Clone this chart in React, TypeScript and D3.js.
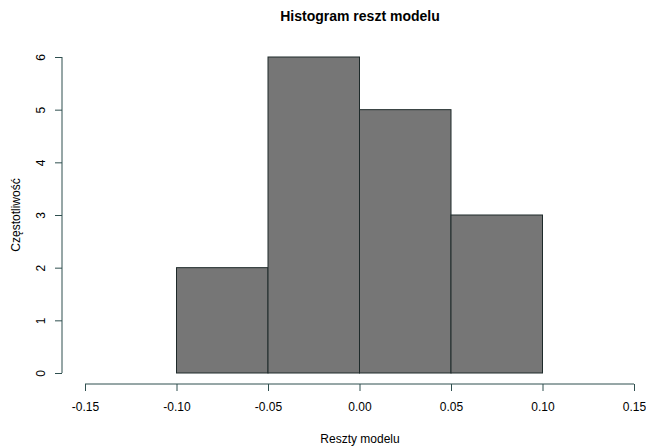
import { useEffect, useRef } from 'react'
import * as d3 from 'd3'

const binEdges = [-0.1, -0.05, 0, 0.05, 0.1]
const counts = [2, 6, 5, 3]
const xTicks = [-0.15, -0.1, -0.05, 0, 0.05, 0.1, 0.15]
const yTicks = [0, 1, 2, 3, 4, 5, 6]

const TITLE = 'Histogram reszt modelu'
const X_LABEL = 'Reszty modelu'
const Y_LABEL = 'Częstotliwość'

export default function App() {
  const svgRef = useRef<SVGSVGElement | null>(null)

  useEffect(() => {
    if (!svgRef.current) return
    const svg = d3.select(svgRef.current)
    svg.selectAll('*').remove()

    const W = 646, H = 446
    const font = '"Liberation Sans", Arial, sans-serif'
    const axisColor = '#2f4f4f'

    const x = d3.scaleLinear().domain([-0.15, 0.15]).range([85, 634])
    const y = d3.scaleLinear().domain([0, 6]).range([373, 57])

    // Bars
    counts.forEach((c, i) => {
      svg.append('rect')
        .attr('x', x(binEdges[i]))
        .attr('y', y(c))
        .attr('width', x(binEdges[i + 1]) - x(binEdges[i]))
        .attr('height', y(0) - y(c))
        .attr('fill', '#767676')
        .attr('stroke', '#1e2a2a')
        .attr('stroke-width', 1)
    })

    // X axis (plain hyphen minus, like R)
    const xAxis = svg.append('g').attr('transform', 'translate(0,384)')
      .call(d3.axisBottom(x).tickValues(xTicks).tickSize(7).tickPadding(11)
        .tickFormat(d => (d as number).toFixed(2)))
    xAxis.select('.domain').attr('stroke', axisColor).attr('d', `M${x(-0.15)},0H${x(0.15)}`)
    xAxis.selectAll('line').attr('stroke', axisColor)
    xAxis.selectAll('text').attr('fill', '#000').attr('font-size', 12).attr('font-family', font)

    // Y axis
    const yAxis = svg.append('g').attr('transform', 'translate(62,0)')
      .call(d3.axisLeft(y).tickValues(yTicks).tickSize(7).tickFormat(d => String(d)))
    yAxis.select('.domain').attr('stroke', axisColor).attr('d', `M0,${y(0)}V${y(6)}`)
    yAxis.selectAll('line').attr('stroke', axisColor)
    yAxis.selectAll('text')
      .attr('fill', '#000').attr('font-size', 12).attr('font-family', font)
      .attr('x', null).attr('dy', null).attr('y', 0)
      .attr('text-anchor', 'middle')
      .attr('transform', 'translate(-21,0) rotate(-90)')
      .attr('dominant-baseline', 'central')

    // Title
    svg.append('text').attr('x', 360).attr('y', 21)
      .attr('text-anchor', 'middle').attr('font-weight', 'bold')
      .attr('font-size', 14).attr('font-family', font).attr('fill', '#000')
      .text(TITLE)

    svg.append('text').attr('x', 360).attr('y', 443)
      .attr('text-anchor', 'middle').attr('font-size', 12)
      .attr('font-family', font).attr('fill', '#000')
      .text(X_LABEL)

    svg.append('text')
      .attr('transform', `translate(20,${(y(0) + y(6)) / 2}) rotate(-90)`)
      .attr('text-anchor', 'middle').attr('font-size', 12)
      .attr('font-family', font).attr('fill', '#000')
      .text(Y_LABEL)

    svg.attr('width', W).attr('height', H)
  }, [])

  return (
    <svg ref={svgRef} width={646} height={446}
      style={{ position: 'absolute', left: 0, top: 0, background: '#fff' }} />
  )
}
